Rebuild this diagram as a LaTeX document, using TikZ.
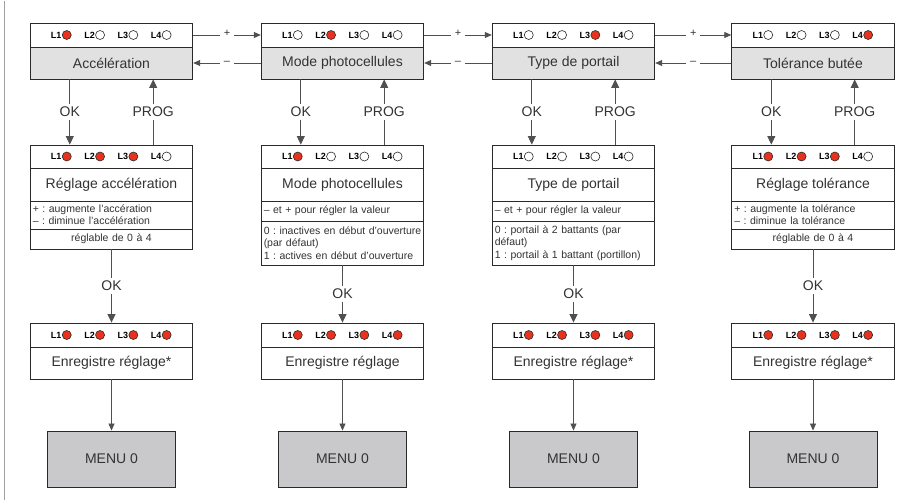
\documentclass[tikz,border=0pt]{standalone}
\usepackage{fontspec}
\setmainfont{Liberation Sans}
\usetikzlibrary{calc,arrows.meta}
\definecolor{txt}{HTML}{333333}
\definecolor{ln}{HTML}{2a2a2a}
\definecolor{conncol}{HTML}{505050}
\definecolor{topgray}{HTML}{E1E1E1}
\definecolor{menugray}{HTML}{C9C9CB}
\definecolor{ledred}{HTML}{E8321E}
\definecolor{edgegray}{HTML}{A0A0A0}

\tikzset{
  part/.style={draw=ln, line width=0.9pt, minimum width=162.5pt, inner sep=0pt,
    text=txt, font=\fontsize{14}{16}\selectfont},
  ledpart/.style={part, fill=white},
  graypart/.style={part, fill=topgray},
  small/.style={part, font=\fontsize{10.5}{12.3}\selectfont, inner xsep=2.5pt,
    text width=157.5pt},
  menubox/.style={draw=ln, line width=0.9pt, fill=menugray, minimum width=128pt,
    minimum height=56pt, text=txt, font=\fontsize{14}{16}\selectfont},
  ledlbl/.style={inner sep=0pt, font=\bfseries\fontsize{9}{9}\selectfont, text=black},
  ledr/.style={circle, draw=ln, line width=0.6pt, fill=ledred, minimum size=9pt, inner sep=0pt},
  ledw/.style={circle, draw=ln, line width=0.6pt, fill=white, minimum size=9pt, inner sep=0pt},
  conn/.style={draw=conncol, line width=0.8pt},
  arrL/.style={-{Triangle[length=8.5pt,width=8pt]}},
  arrS/.style={-{Triangle[length=7pt,width=6pt]}},
  lab/.style={fill=white, inner xsep=2pt, inner ysep=3pt, text=txt, font=\fontsize{14}{16}\selectfont},
  pm/.style={fill=white, inner xsep=4pt, inner ysep=2pt, text=txt, font=\fontsize{11}{11}\selectfont},
}

\newcommand\ledrow[2]{%
  \foreach \s [count=\k] in {#2} {
    \node[ledlbl] (#1-L\k) at ($(#1)+({(\k-2.5)*33.3-5.3},0)$) {L\k};
    \node[led\s] (#1-C\k) at ($(#1)+({(\k-2.5)*33.3+5.2},0)$) {};
  }%
}

\begin{document}
\frenchspacing
\begin{tikzpicture}[x=1pt, y=-1pt]
\useasboundingbox (0,0) rectangle (918,503);
\fill[white] (0,0) rectangle (918,503);
\draw[edgegray, line width=0.8pt] (4,1) -- (4,500);

% ---------------- Column A ----------------
\node[ledpart, minimum height=24pt] (a1l) at (111.5,35) {};
\node[graypart, minimum height=32pt] (a1t) at (111.5,63) {Accélération};
\ledrow{a1l}{r,w,w,w}
\node[ledpart, minimum height=23pt] (a2l) at (111.5,156.5) {};
\node[part, minimum height=33pt] (a2t) at (111.5,184.5) {Réglage accélération};
\node[small, minimum height=28pt, align=left] (a2d) at (111.5,215) {+ : augmente l’accération\\– : diminue l’accélération};
\node[small, minimum height=20pt, align=center] (a2r) at (111.5,239) {réglable de 0 à 4};
\ledrow{a2l}{r,r,r,w}
\node[ledpart, minimum height=24pt] (a3l) at (111.5,335) {};
\node[part, minimum height=32pt] (a3t) at (111.5,363) {Enregistre réglage*};
\ledrow{a3l}{r,r,r,r}
\node[menubox] (a4) at (111.5,459) {MENU 0};

% ---------------- Column B ----------------
\node[ledpart, minimum height=24pt] (b1l) at (342.5,35) {};
\node[graypart, minimum height=32pt] (b1t) at (342.5,63) {Mode photocellules};
\ledrow{b1l}{w,r,w,w}
\node[ledpart, minimum height=23pt] (b2l) at (342.5,156.5) {};
\node[part, minimum height=33pt] (b2t) at (342.5,184.5) {Mode photocellules};
\node[small, minimum height=20pt, align=left] (b2d) at (342.5,211) {– et + pour régler la valeur};
\node[small, minimum height=44pt, align=left] (b2r) at (342.5,243) {\mbox{0 : inactives en début d’ouverture}\\\mbox{(par défaut)}\\\mbox{1 : actives en début d’ouverture}};
\ledrow{b2l}{r,w,w,w}
\node[ledpart, minimum height=24pt] (b3l) at (342.5,335) {};
\node[part, minimum height=32pt] (b3t) at (342.5,363) {Enregistre réglage};
\ledrow{b3l}{r,r,r,r}
\node[menubox] (b4) at (342.5,459) {MENU 0};

% ---------------- Column C ----------------
\node[ledpart, minimum height=24pt] (c1l) at (573.5,35) {};
\node[graypart, minimum height=32pt] (c1t) at (573.5,63) {Type de portail};
\ledrow{c1l}{w,w,r,w}
\node[ledpart, minimum height=23pt] (c2l) at (573.5,156.5) {};
\node[part, minimum height=33pt] (c2t) at (573.5,184.5) {Type de portail};
\node[small, minimum height=20pt, align=left] (c2d) at (573.5,211) {– et + pour régler la valeur};
\node[small, minimum height=44pt, align=left] (c2r) at (573.5,243) {\mbox{0 : portail à 2 battants (par}\\\mbox{défaut)}\\\mbox{1 : portail à 1 battant (portillon)}};
\ledrow{c2l}{w,w,w,w}
\node[ledpart, minimum height=24pt] (c3l) at (573.5,335) {};
\node[part, minimum height=32pt] (c3t) at (573.5,363) {Enregistre réglage*};
\ledrow{c3l}{r,r,r,r}
\node[menubox] (c4) at (573.5,459) {MENU 0};

% ---------------- Column D ----------------
\node[ledpart, minimum height=24pt] (d1l) at (813,35) {};
\node[graypart, minimum height=32pt] (d1t) at (813,63) {Tolérance butée};
\ledrow{d1l}{w,w,w,r}
\node[ledpart, minimum height=23pt] (d2l) at (813,156.5) {};
\node[part, minimum height=33pt] (d2t) at (813,184.5) {Réglage tolérance};
\node[small, minimum height=28pt, align=left] (d2d) at (813,215) {+ : augmente la tolérance\\– : diminue la tolérance};
\node[small, minimum height=20pt, align=center] (d2r) at (813,239) {réglable de 0 à 4};
\ledrow{d2l}{r,r,r,w}
\node[ledpart, minimum height=24pt] (d3l) at (813,335) {};
\node[part, minimum height=32pt] (d3t) at (813,363) {Enregistre réglage*};
\ledrow{d3l}{r,r,r,r}
\node[menubox] (d4) at (813,459) {MENU 0};

% ---------------- Horizontal +/- connectors ----------------
\draw[conn,arrS] (a1l.east) -- node[pm, yshift=1.5pt]{+} (b1l.west);
\draw[conn,arrS] (b1t.west) -- node[pm]{–} (a1t.east);
\draw[conn,arrS] (b1l.east) -- node[pm, yshift=1.5pt]{+} (c1l.west);
\draw[conn,arrS] (c1t.west) -- node[pm]{–} (b1t.east);
\draw[conn,arrS] (c1l.east) -- node[pm, yshift=1.5pt]{+} (d1l.west);
\draw[conn,arrS] (d1t.west) -- node[pm]{–} (c1t.east);

% ---------------- Vertical connectors ----------------
\foreach \c in {a,b,c,d} {
  \draw[conn,arrL] ([xshift=40pt]\c1t.south west) -- node[lab]{OK} ([xshift=40pt]\c2l.north west);
  \draw[conn,arrL] ([xshift=-40pt]\c2l.north east) -- node[lab]{PROG} ([xshift=-40pt]\c1t.south east);
  \draw[conn,arrL] (\c2r.south) -- node[lab]{OK} (\c3l.north);
  \draw[conn,arrS] (\c3t.south) -- (\c4.north);
}
\end{tikzpicture}
\end{document}
